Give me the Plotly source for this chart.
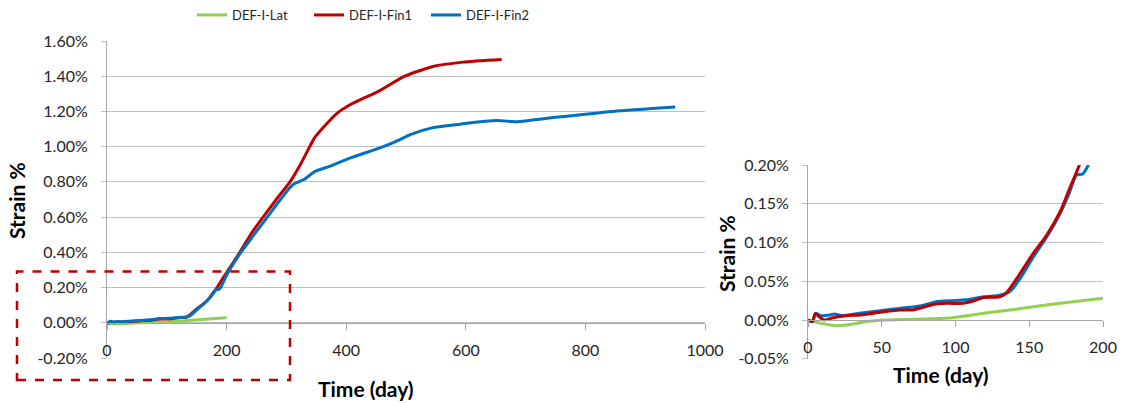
import plotly.graph_objects as go

# ---------------- data ----------------
lat_day = [0, 8, 19, 26, 40, 51, 73, 98, 119, 141, 164, 200]
lat_val = [0, -0.004, -0.0073, -0.0065, -0.002, 0, 0.001, 0.003, 0.0086, 0.0138, 0.020, 0.028]

fin1_day = [0, 3, 5, 7, 11, 17, 26, 35, 49, 62, 71, 85, 94, 105, 112, 119, 130, 134, 141, 152,
            162, 171, 177, 184, 195, 205, 222, 240, 261, 283, 306, 322, 339, 347, 362, 385, 405,
            457, 498, 545, 595, 660]
fin1_val = [0, -0.002, 0.008, 0.005, 0.0, 0.003, 0.0056, 0.0065, 0.010, 0.013, 0.013, 0.020,
            0.0215, 0.0215, 0.0245, 0.029, 0.030, 0.034, 0.052, 0.084, 0.110, 0.140, 0.168, 0.200,
            0.26, 0.31, 0.40, 0.50, 0.60, 0.70, 0.80, 0.89, 1.00, 1.05, 1.11, 1.19, 1.235,
            1.32, 1.40, 1.455, 1.48, 1.495]

fin2_day = [0, 3, 5, 9, 15, 18, 23, 35, 49, 62, 76, 87, 98, 107, 119, 130, 137, 144, 153, 162,
            171, 177, 182, 186, 189, 191, 200, 224, 246, 268, 290, 311, 330, 348, 370, 406, 462,
            490, 507, 545, 595, 652, 686, 746, 846, 950]
fin2_val = [0, -0.002, 0.0086, 0.0056, 0.0065, 0.0077, 0.0056, 0.0086, 0.012, 0.015, 0.018,
            0.0237, 0.025, 0.026, 0.030, 0.032, 0.037, 0.054, 0.082, 0.1075, 0.1376, 0.163, 0.187,
            0.188, 0.196, 0.205, 0.27, 0.40, 0.50, 0.60, 0.70, 0.785, 0.815, 0.86, 0.885, 0.935,
            1.00, 1.04, 1.068, 1.108, 1.13, 1.148, 1.142, 1.165, 1.20, 1.225]

names = ["DEF-I-Lat", "DEF-I-Fin1", "DEF-I-Fin2"]
colors = ["#92D050", "#C00000", "#0070C0"]

main_xticks = [0, 200, 400, 600, 800, 1000]
main_yticks = [-0.2, 0, 0.2, 0.4, 0.6, 0.8, 1.0, 1.2, 1.4, 1.6]
inset_xticks = [0, 50, 100, 150, 200]
inset_yticks = [-0.05, 0, 0.05, 0.10, 0.15, 0.20]

# ---------------- layout geometry ----------------
W, H = 1126, 403
FONT = "Lato"
GRID = "#BFBFBF"
AX = "#A6A6A6"
TXT = "#262626"

def px_x(p):
    return p / W

def px_y(p):
    return 1 - p / H

main_xdom = [px_x(107), px_x(705)]
main_ydom = [px_y(358), px_y(41)]
ins_xdom = [px_x(808), px_x(1103)]
ins_ydom = [px_y(358.75), px_y(165)]

main_yr = [-0.2, 1.6]
ins_yr = [-0.05, 0.2]

def zero_pos(dom, rng):
    return dom[0] + (0 - rng[0]) / (rng[1] - rng[0]) * (dom[1] - dom[0])

def pct(vals):
    return [f"{v:.2f}%" for v in vals]

fig = go.Figure()

series = [(lat_day, lat_val), (fin1_day, fin1_val), (fin2_day, fin2_val)]
for i, (d, v) in enumerate(series):
    fig.add_trace(go.Scatter(x=d, y=v, mode="lines", name=names[i],
                             line=dict(color=colors[i], width=3, shape="spline", smoothing=0.6),
                             xaxis="x", yaxis="y", showlegend=True))
for i in [0, 2, 1]:
    d, v = series[i]
    fig.add_trace(go.Scatter(x=d, y=v, mode="lines", name=names[i],
                             line=dict(color=colors[i], width=3, shape="spline", smoothing=0.6),
                             xaxis="x2", yaxis="y2", showlegend=False))

tickfont = dict(family=FONT, size=16, color=TXT)

fig.update_layout(
    width=W, height=H,
    margin=dict(l=0, r=0, t=0, b=0, autoexpand=False),
    paper_bgcolor="white", plot_bgcolor="white",
    font=dict(family=FONT, color=TXT),
    showlegend=True,
    legend=dict(orientation="h", x=px_x(192), xanchor="left", y=1.0, yanchor="top",
                font=dict(family=FONT, size=13, color=TXT), bgcolor="rgba(0,0,0,0)",
                itemwidth=30, entrywidth=72),
    xaxis=dict(domain=main_xdom, range=[0, 1000], anchor="free",
               position=zero_pos(main_ydom, main_yr),
               tickvals=main_xticks, ticks="outside", ticklen=6, tickcolor=AX,
               showline=True, linecolor=AX, linewidth=1, showgrid=False, zeroline=False,
               tickfont=tickfont, ticklabelstandoff=7, fixedrange=True),
    yaxis=dict(domain=main_ydom, range=main_yr, anchor="x",
               tickvals=main_yticks, ticktext=pct(main_yticks),
               ticks="outside", ticklen=5, tickcolor=GRID,
               showline=True, linecolor=AX, linewidth=1,
               showgrid=True, gridcolor=GRID, gridwidth=1, zeroline=False,
               tickfont=tickfont, ticklabelstandoff=10),
    xaxis2=dict(domain=ins_xdom, range=[0, 200], anchor="free",
                position=zero_pos(ins_ydom, ins_yr),
                tickvals=inset_xticks, ticks="outside", ticklen=6, tickcolor=AX,
                showline=True, linecolor=AX, linewidth=1, showgrid=False, zeroline=False,
                tickfont=tickfont, ticklabelstandoff=7),
    yaxis2=dict(domain=ins_ydom, range=ins_yr, anchor="x2",
                tickvals=inset_yticks, ticktext=pct(inset_yticks),
                ticks="outside", ticklen=5, tickcolor=GRID,
                showline=True, linecolor=AX, linewidth=1,
                showgrid=True, gridcolor=GRID, gridwidth=1, zeroline=False,
                tickfont=tickfont, ticklabelstandoff=10),
)

title_font = dict(family=FONT, size=21, color="#000000", weight="bold")
annots = [
    dict(text="Strain %", x=px_x(17), y=px_y(201), textangle=-90),
    dict(text="Time (day)", x=px_x(366), y=px_y(388), textangle=0),
    dict(text="Strain %", x=px_x(727), y=px_y(254), textangle=-90),
    dict(text="Time (day)", x=px_x(941), y=px_y(374), textangle=0),
]
for a in annots:
    fig.add_annotation(text=a["text"], x=a["x"], y=a["y"], xref="paper", yref="paper",
                       textangle=a["textangle"], showarrow=False,
                       xanchor="center", yanchor="middle", font=title_font)

# dashed highlight rectangle (paper coordinates)
fig.add_shape(type="rect", xref="paper", yref="paper",
              x0=px_x(17), x1=px_x(290), y0=px_y(380), y1=px_y(271.5),
              line=dict(color="#C00000", width=2.5, dash="dash"), fillcolor="rgba(0,0,0,0)")

fig.write_html("out.html", config={"displayModeBar": False},
               post_script="document.body.style.margin='0';document.body.style.overflow='hidden';")
